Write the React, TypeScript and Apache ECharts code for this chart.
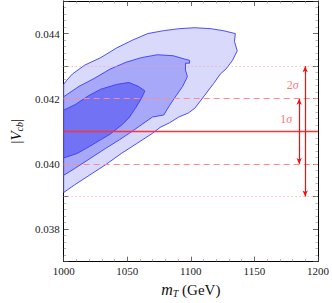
import React, { useEffect, useRef } from "react";
import * as echarts from "echarts";

// m_T (GeV), |V_cb| contour boundaries
const outerContour: [number, number][] = [
  [1000, 0.04244], [1002.3, 0.04256], [1006.9, 0.04276], [1016.5, 0.04303], [1029.1, 0.04326],
  [1041.7, 0.04356], [1053.6, 0.04379], [1066.1, 0.044], [1078.7, 0.04409], [1090.6, 0.04415],
  [1103.2, 0.04418], [1115.8, 0.04415], [1125.4, 0.04409], [1135.0, 0.044], [1134.3, 0.04376],
  [1136.5, 0.04347], [1132.8, 0.04318], [1127.6, 0.04291], [1123.2, 0.04276], [1118.0, 0.04247],
  [1110.6, 0.04209], [1103.2, 0.04171], [1098.0, 0.04156], [1090.6, 0.04144], [1083.2, 0.04126],
  [1075.8, 0.04112], [1069.9, 0.04094], [1057.3, 0.04062], [1045.4, 0.04032], [1032.8, 0.03997],
  [1020.2, 0.03965], [1008.4, 0.03935], [1000, 0.03912],
];
const middleContour: [number, number][] = [
  [1000, 0.04206], [1012.1, 0.04238], [1023.9, 0.04262], [1036.5, 0.04291], [1049.1, 0.04312],
  [1061.0, 0.04326], [1073.6, 0.04335], [1086.1, 0.04332], [1095.8, 0.04321], [1099.0, 0.04318],
  [1099.0, 0.04309], [1095.8, 0.04309], [1095.8, 0.04288], [1097.3, 0.04268], [1093.6, 0.04238],
  [1088.4, 0.04209], [1083.2, 0.04179], [1078.7, 0.0415], [1069.9, 0.04144], [1055.0, 0.04103],
  [1043.9, 0.04074], [1032.8, 0.04047], [1020.2, 0.04015], [1008.4, 0.03985], [1000, 0.03965],
];
const innerContour: [number, number][] = [
  [1000, 0.04165], [1009.1, 0.04182], [1019.5, 0.04209], [1029.1, 0.04229], [1041.7, 0.04244],
  [1051.3, 0.0425], [1058.7, 0.04238], [1063.9, 0.04224], [1061.0, 0.042], [1056.5, 0.04171],
  [1051.3, 0.04141], [1046.1, 0.04121], [1036.5, 0.04091], [1029.1, 0.04074], [1020.2, 0.04053],
  [1010.6, 0.04032], [1000, 0.04018],
];

const centralVcb = 0.041;
const oneSigma = [0.04, 0.042];
const twoSigma = [0.039, 0.043];
const oneSigmaArrowX = 1185.2;
const twoSigmaArrowX = 1189.9;
const sigmaLabels: [number, number, string][] = [
  [1175.0, 0.04138, "1{i|σ}"],
  [1180.2, 0.04243, "2{i|σ}"],
];

const xMin = 1000, xMax = 1200, xStep = 50;
const yMin = 0.037, yMax = 0.045, yStep = 0.001;

const FONT = "'Liberation Serif', 'DejaVu Serif', serif";

function polySeries(points: [number, number][], fill: string, z: number) {
  return {
    type: "custom",
    z,
    clip: true,
    silent: true,
    data: [points[0]],
    renderItem: (_p: any, api: any) => ({
      type: "polygon",
      shape: { points: points.map((p) => api.coord(p)) },
      style: { fill, stroke: "#3b3bff", lineWidth: 0.9 },
    }),
  };
}

export default function App() {
  const ref = useRef<HTMLDivElement>(null);
  useEffect(() => {
    if (!ref.current) return;
    const chart = echarts.init(ref.current, null, { renderer: "svg" });
    const axisCommon = {
      axisLine: { show: true, lineStyle: { color: "#000", width: 1 } },
      splitLine: { show: false },
    };
    const tickCommon = { show: true, inside: true, length: 5, lineStyle: { color: "#444", width: 0.8 } };
    const minorCommon = { show: true, length: 2.5, lineStyle: { color: "#888", width: 0.6 } };
    chart.setOption({
      animation: false,
      grid: { left: 51, right: 11, top: 1, bottom: 31 },
      xAxis: [
        {
          type: "value", min: xMin, max: xMax, interval: xStep, position: "bottom",
          ...axisCommon,
          axisTick: tickCommon,
          minorTick: { ...minorCommon, splitNumber: 5 },
          axisLabel: { fontFamily: FONT, fontSize: 11, color: "#222", margin: 4, formatter: (v: number) => String(v) },
          name: "{i|m}{s|T} (GeV)",
          nameLocation: "middle",
          nameGap: 13,
          nameTextStyle: {
            fontFamily: FONT, fontSize: 15, color: "#111", verticalAlign: "top",
            rich: {
              i: { fontFamily: FONT, fontStyle: "italic", fontSize: 16, color: "#111" },
              s: { fontFamily: FONT, fontStyle: "italic", fontSize: 10, color: "#111", padding: [7, 0, 0, 0] },
            },
          },
        },
        {
          type: "value", min: xMin, max: xMax, interval: xStep, position: "top",
          ...axisCommon,
          axisTick: tickCommon,
          minorTick: { ...minorCommon, splitNumber: 5 },
          axisLabel: { show: false },
        },
      ],
      yAxis: [
        {
          type: "value", min: yMin, max: yMax, interval: yStep, position: "left",
          ...axisCommon,
          axisTick: tickCommon,
          minorTick: { ...minorCommon, splitNumber: 5 },
          axisLabel: {
            fontFamily: FONT, fontSize: 11, color: "#222", margin: 4,
            formatter: (v: number) => (Math.round(v * 1000) % 2 === 0 ? v.toFixed(3) : ""),
          },
          name: "|{i|V}{s|cb}|",
          nameLocation: "middle",
          nameGap: 39,
          nameRotate: 90,
          nameTextStyle: {
            fontFamily: FONT, fontSize: 15, color: "#111",
            rich: {
              i: { fontFamily: FONT, fontStyle: "italic", fontSize: 15, color: "#111" },
              s: { fontFamily: FONT, fontStyle: "italic", fontSize: 10, color: "#111", padding: [7, 0, 0, 0] },
            },
          },
        },
        {
          type: "value", min: yMin, max: yMax, interval: yStep, position: "right",
          ...axisCommon,
          axisTick: tickCommon,
          minorTick: { ...minorCommon, splitNumber: 5 },
          axisLabel: { show: false },
        },
      ],
      series: [
        polySeries(outerContour, "#d9d9fb", 2),
        polySeries(middleContour, "#a8a8f8", 3),
        polySeries(innerContour, "#7272f4", 4),
        {
          type: "scatter",
          z: 10,
          symbolSize: 0,
          silent: true,
          data: sigmaLabels.map((d) => ({ value: [d[0], d[1]], name: d[2] })),
          label: {
            show: true,
            position: "inside",
            formatter: (p: any) => p.name,
            fontFamily: FONT,
            fontSize: 12,
            color: "#ff5050",
            rich: { i: { fontFamily: FONT, fontStyle: "italic", fontSize: 12, color: "#ff5050" } },
          },
          markLine: {
            silent: true,
            symbol: "none",
            precision: 6,
            label: { show: false },
            animation: false,
            data: [
              { yAxis: centralVcb, lineStyle: { color: "#ff3333", width: 1.3, type: "solid" } },
              { yAxis: oneSigma[0], lineStyle: { color: "#ff8a8a", width: 1, type: [6, 4] } },
              { yAxis: oneSigma[1], lineStyle: { color: "#ff8a8a", width: 1, type: [6, 4] } },
              { yAxis: twoSigma[0], lineStyle: { color: "#ffa0a0", width: 1, type: [1, 3] } },
              { yAxis: twoSigma[1], lineStyle: { color: "#ffa0a0", width: 1, type: [1, 3] } },
              [
                { coord: [oneSigmaArrowX, oneSigma[1]], symbol: "arrow", symbolSize: [4, 6], lineStyle: { color: "#ee1111", width: 1.2, type: "solid" } },
                { coord: [oneSigmaArrowX, oneSigma[0]], symbol: "arrow", symbolSize: [4, 6] },
              ],
              [
                { coord: [twoSigmaArrowX, twoSigma[1]], symbol: "arrow", symbolSize: [4, 6], lineStyle: { color: "#ee1111", width: 1.2, type: "solid" } },
                { coord: [twoSigmaArrowX, twoSigma[0]], symbol: "arrow", symbolSize: [4, 6] },
              ],
            ],
          },
        },
      ],
    });
    return () => chart.dispose();
  }, []);
  return (
    <div
      ref={ref}
      style={{ position: "fixed", left: 0, top: 0, width: 332, height: 303, background: "#fff" }}
    />
  );
}
